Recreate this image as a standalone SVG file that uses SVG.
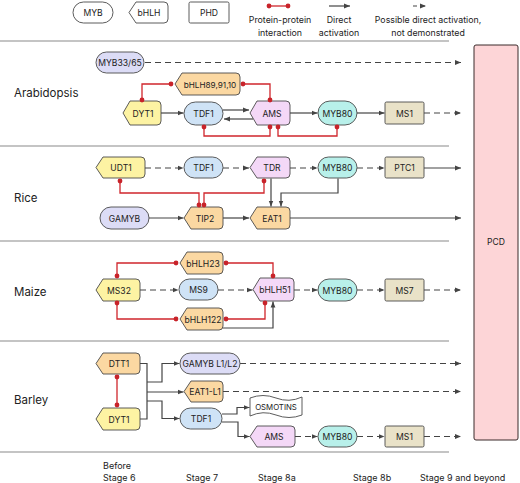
<svg xmlns="http://www.w3.org/2000/svg" width="520" height="483" viewBox="0 0 520 483">
<style>
text{font-family:Inter,"Liberation Sans",sans-serif;fill:#222;}
.n{font-size:8.6px;text-anchor:middle;}
.lg{font-size:8.8px;text-anchor:middle;}
.row{font-size:11.5px;}
.st{font-size:9px;}
.sh{stroke:#4a4a4a;stroke-width:0.9;}
.w{fill:#fff;}
.myb{fill:#dcdcf6;}
.yel{fill:#fdf3a3;}
.org{fill:#fbd8a2;}
.blu{fill:#cfe3f6;}
.pnk{fill:#f4d8f7;}
.tea{fill:#b8f0ea;}
.tan{fill:#e9e2c8;}
.c{fill:none;stroke:#444;stroke-width:1.2;}
.d{stroke-dasharray:6,4;}
.r{fill:none;stroke:#d0262c;stroke-width:1.3;}
.dot{fill:#c8232a;}
.sep{stroke:#8a8a8a;stroke-width:1.2;}
</style>
<defs>
<marker id="a" viewBox="0 0 6 6" refX="6" refY="3" markerWidth="6" markerHeight="6" markerUnits="userSpaceOnUse" orient="auto">
<path d="M0,0.6 L6,3 L0,5.4 Z" fill="#444"/>
</marker>
</defs>

<!-- separators -->
<g id="separators">
<line class="sep" x1="0" y1="41" x2="449" y2="41"/>
<line class="sep" x1="0" y1="146" x2="449" y2="146"/>
<line class="sep" x1="0" y1="241" x2="449" y2="241"/>
<line class="sep" x1="0" y1="341" x2="449" y2="341"/>
<line class="sep" x1="0" y1="452" x2="449" y2="452"/>
</g>

<!-- legend -->
<g id="legend">
<rect class="sh w" x="73" y="2" width="40" height="21" rx="10.5"/>
<text class="n" x="93" y="15.5">MYB</text>
<path class="sh w" d="M136,2 H164 Q168,2 168,6 V19 Q168,23 164,23 H136 L129,12.5 Z"/>
<text class="n" x="149" y="15.5">bHLH</text>
<rect class="sh w" x="189" y="2" width="40" height="21" rx="1.5"/>
<text class="n" x="209" y="15.5">PHD</text>
<path class="r" d="M269,6 H288"/>
<circle class="dot" cx="269" cy="6" r="2.4"/><circle class="dot" cx="288" cy="6" r="2.4"/>
<text class="lg" x="280" y="22.5">Protein-protein</text>
<text class="lg" x="280" y="35.5">interaction</text>
<path class="c" d="M329,6 H350" marker-end="url(#a)"/>
<text class="lg" x="339" y="22.5">Direct</text>
<text class="lg" x="339" y="35.5">activation</text>
<path class="c" d="M413,6 H426" stroke-dasharray="4,4" marker-end="url(#a)"/>
<text class="lg" x="428" y="22.5">Possible direct activation,</text>
<text class="lg" x="428" y="35.5">not demonstrated</text>
</g>

<!-- PCD -->
<g id="PCD">
<rect x="474" y="45" width="44" height="395" rx="2" fill="#fdd5d7" stroke="#3b2b2b" stroke-width="1"/>
<text class="n" x="496" y="245">PCD</text>
</g>

<!-- row labels -->
<g id="row-labels">
<text class="row" x="14" y="97">Arabidopsis</text>
<text class="row" x="14" y="202">Rice</text>
<text class="row" x="14" y="296">Maize</text>
<text class="row" x="14" y="404">Barley</text>
</g>

<!-- stage labels -->
<g id="stage-labels">
<text class="st" x="103" y="469">Before</text>
<text class="st" x="103" y="481">Stage 6</text>
<text class="st" x="186" y="481">Stage 7</text>
<text class="st" x="258" y="481">Stage 8a</text>
<text class="st" x="353" y="481">Stage 8b</text>
<text class="st" x="420" y="481">Stage 9 and beyond</text>
</g>

<!-- connectors -->
<g id="connectors">
<!-- Arabidopsis -->
<path class="c d" d="M145,62.5 H461" marker-end="url(#a)"/>
<path class="c" d="M161,113 H183.5" marker-end="url(#a)"/>
<path class="c" d="M223,110 H249" marker-end="url(#a)"/>
<path class="c" d="M253,119 H224" marker-end="url(#a)"/>
<path class="c" d="M290,113 H317.5" marker-end="url(#a)"/>
<path class="c" d="M357,113 H384.5" marker-end="url(#a)"/>
<path class="c d" d="M424,113 H461" marker-end="url(#a)"/>
<path class="r" d="M171,84 H142 V100"/>
<path class="r" d="M243,84 H270 V100"/>
<path class="r" d="M204,127 V136 H270 V127"/>
<path class="r" d="M278,127 V136 H337 V127"/>
<!-- Rice -->
<path class="c d" d="M145,168 H183.5" marker-end="url(#a)"/>
<path class="c d" d="M223,168 H249" marker-end="url(#a)"/>
<path class="c d" d="M290,168 H317.5" marker-end="url(#a)"/>
<path class="c d" d="M357,168 H384.5" marker-end="url(#a)"/>
<path class="c" d="M424,168 H461" marker-end="url(#a)"/>
<path class="c" d="M149,218 H183.5" marker-end="url(#a)"/>
<path class="c" d="M223,218 H249" marker-end="url(#a)"/>
<path class="c" d="M290,218 H461" marker-end="url(#a)"/>
<path class="c" d="M271,178.5 V206.5" marker-end="url(#a)"/>
<path class="c" d="M338,178.5 V193 H281 V206.5" marker-end="url(#a)"/>
<path class="r" d="M120,181 V193 H199 V205"/>
<path class="r" d="M264,181 V193 H204 V205"/>
<!-- Maize -->
<path class="c d" d="M140,290 H178.5" marker-end="url(#a)"/>
<path class="c d" d="M218,290 H252.5" marker-end="url(#a)"/>
<path class="c d" d="M294,290 H317.5" marker-end="url(#a)"/>
<path class="c d" d="M357,290 H384.5" marker-end="url(#a)"/>
<path class="c d" d="M424,290 H461" marker-end="url(#a)"/>
<path class="r" d="M176,263 H117 V276"/>
<path class="r" d="M226,263 H273 V276"/>
<path class="r" d="M176,319 H117 V303"/>
<path class="r" d="M226,319 H265 V303"/>
<path class="c" d="M223,328 H273 V301.5" marker-end="url(#a)"/>
<!-- Barley -->
<path class="r" d="M117,377 V405"/>
<path class="c" d="M140,363.5 H147 V419 H140"/>
<path class="c" d="M147,382 H162 V363.5 H179.5" marker-end="url(#a)"/>
<path class="c" d="M147,392 H183.5" marker-end="url(#a)"/>
<path class="c" d="M147,401 H162 V418.5 H179.5" marker-end="url(#a)"/>
<path class="c d" d="M240,363.5 H461" marker-end="url(#a)"/>
<path class="c d" d="M223,391.5 H461" marker-end="url(#a)"/>
<path class="c" d="M222,414 H237 V407.5 H249.5" marker-end="url(#a)"/>
<path class="c" d="M222,422 H238 V436.5 H249.5" marker-end="url(#a)"/>
<path class="c d" d="M295,436.5 H317.5" marker-end="url(#a)"/>
<path class="c d" d="M357,436.5 H384.5" marker-end="url(#a)"/>
<path class="c d" d="M424,436.5 H461" marker-end="url(#a)"/>
</g>

<!-- Arabidopsis nodes -->
<g id="ara-MYB33-65"><rect class="sh myb" x="96" y="52" width="48" height="21" rx="10.5"/><text class="n" x="120" y="65.5">MYB33/65</text></g>
<g id="ara-bHLH89"><path class="sh org" d="M182,73 H236 Q240,73 240,77 V91 Q240,95 236,95 H182 L175,84 Z"/><text class="n" x="210" y="87.5" style="font-size:8.2px">bHLH89,91,10</text></g>
<g id="ara-DYT1"><path class="sh yel" d="M130,101 H157 Q161,101 161,105 V121 Q161,125 157,125 H130 L123,113 Z"/><text class="n" x="143" y="116.5">DYT1</text></g>
<g id="ara-TDF1"><rect class="sh blu" x="184" y="102" width="39" height="23" rx="11.5"/><text class="n" x="203.5" y="116.5">TDF1</text></g>
<g id="ara-AMS"><path class="sh pnk" d="M257,101 H286 Q290,101 290,105 V121 Q290,125 286,125 H257 L250,113 Z"/><text class="n" x="272" y="116.5">AMS</text></g>
<g id="ara-MYB80"><rect class="sh tea" x="318" y="101" width="39" height="24" rx="12"/><text class="n" x="337.5" y="116.5">MYB80</text></g>
<g id="ara-MS1"><rect class="sh tan" x="385" y="102" width="39" height="22" rx="1.5"/><text class="n" x="404.5" y="116.5">MS1</text></g>
<g id="ara-dots">
<circle class="dot" cx="171" cy="84" r="2.4"/><circle class="dot" cx="243" cy="84" r="2.4"/>
<circle class="dot" cx="142" cy="100" r="2.4"/><circle class="dot" cx="270" cy="100" r="2.4"/>
<circle class="dot" cx="204" cy="127" r="2.4"/><circle class="dot" cx="270" cy="127" r="2.4"/>
<circle class="dot" cx="278" cy="127" r="2.4"/><circle class="dot" cx="337" cy="127" r="2.4"/>
</g>

<!-- Rice nodes -->
<g id="rice-UDT1"><path class="sh yel" d="M103,157 H141 Q145,157 145,161 V174 Q145,178 141,178 H103 L96,167.5 Z"/><text class="n" x="121" y="171">UDT1</text></g>
<g id="rice-TDF1"><rect class="sh blu" x="184" y="157" width="39" height="21" rx="10.5"/><text class="n" x="203.5" y="171">TDF1</text></g>
<g id="rice-TDR"><path class="sh pnk" d="M257,157 H286 Q290,157 290,161 V174 Q290,178 286,178 H257 L250,167.5 Z"/><text class="n" x="272" y="171">TDR</text></g>
<g id="rice-MYB80"><rect class="sh tea" x="318" y="157" width="39" height="21" rx="10.5"/><text class="n" x="337.5" y="171">MYB80</text></g>
<g id="rice-PTC1"><rect class="sh tan" x="385" y="157" width="39" height="21" rx="1.5"/><text class="n" x="404.5" y="171">PTC1</text></g>
<g id="rice-GAMYB"><rect class="sh myb" x="100" y="207" width="49" height="22" rx="11"/><text class="n" x="124.5" y="221.5">GAMYB</text></g>
<g id="rice-TIP2"><path class="sh org" d="M191,207 H219 Q223,207 223,211 V225 Q223,229 219,229 H191 L184,218 Z"/><text class="n" x="205" y="221.5">TIP2</text></g>
<g id="rice-EAT1"><path class="sh org" d="M257,207 H286 Q290,207 290,211 V225 Q290,229 286,229 H257 L250,218 Z"/><text class="n" x="272" y="221.5">EAT1</text></g>
<g id="rice-dots">
<circle class="dot" cx="120" cy="181" r="2.4"/><circle class="dot" cx="264" cy="181" r="2.4"/>
<circle class="dot" cx="199" cy="205" r="2.4"/><circle class="dot" cx="204" cy="205" r="2.4"/>
</g>

<!-- Maize nodes -->
<g id="maize-bHLH23"><path class="sh org" d="M187,252 H219 Q223,252 223,256 V270 Q223,274 219,274 H187 L180,263 Z"/><text class="n" x="203" y="266.5">bHLH23</text></g>
<g id="maize-MS32"><path class="sh yel" d="M103,279 H136 Q140,279 140,283 V297 Q140,301 136,301 H103 L96,290 Z"/><text class="n" x="119" y="293.5">MS32</text></g>
<g id="maize-MS9"><rect class="sh blu" x="179" y="279" width="39" height="21" rx="10.5"/><text class="n" x="198.5" y="293">MS9</text></g>
<g id="maize-bHLH51"><path class="sh pnk" d="M260,278 H290 Q294,278 294,282 V297 Q294,301 290,301 H260 L253,289.5 Z"/><text class="n" x="275" y="293">bHLH51</text></g>
<g id="maize-MYB80"><rect class="sh tea" x="318" y="279" width="39" height="22" rx="11"/><text class="n" x="337.5" y="293.5">MYB80</text></g>
<g id="maize-MS7"><rect class="sh tan" x="385" y="279" width="39" height="22" rx="1.5"/><text class="n" x="404.5" y="293.5">MS7</text></g>
<g id="maize-bHLH122"><path class="sh org" d="M187,308 H219 Q223,308 223,312 V326 Q223,330 219,330 H187 L180,319 Z"/><text class="n" x="203" y="322.5">bHLH122</text></g>
<g id="maize-dots">
<circle class="dot" cx="176" cy="263" r="2.4"/><circle class="dot" cx="226" cy="263" r="2.4"/>
<circle class="dot" cx="117" cy="276" r="2.4"/><circle class="dot" cx="273" cy="276" r="2.4"/>
<circle class="dot" cx="176" cy="319" r="2.4"/><circle class="dot" cx="226" cy="319" r="2.4"/>
<circle class="dot" cx="117" cy="303" r="2.4"/><circle class="dot" cx="265" cy="303" r="2.4"/>
</g>

<!-- Barley nodes -->
<g id="barley-DTT1"><path class="sh org" d="M103,353 H136 Q140,353 140,357 V370 Q140,374 136,374 H103 L96,363.5 Z"/><text class="n" x="119" y="367">DTT1</text></g>
<g id="barley-DYT1"><path class="sh yel" d="M103,408 H136 Q140,408 140,412 V426 Q140,430 136,430 H103 L96,419 Z"/><text class="n" x="119" y="422.5">DYT1</text></g>
<g id="barley-GAMYB-L1-L2"><rect class="sh myb" x="180" y="353" width="60" height="21" rx="10.5"/><text class="n" x="210" y="367">GAMYB L1/L2</text></g>
<g id="barley-EAT1-L1"><path class="sh org" d="M191,381 H219 Q223,381 223,385 V398 Q223,402 219,402 H191 L184,391.5 Z"/><text class="n" x="205" y="395">EAT1-L1</text></g>
<g id="barley-TDF1"><rect class="sh blu" x="180" y="408" width="42" height="21" rx="10.5"/><text class="n" x="201" y="422">TDF1</text></g>
<g id="barley-OSMOTINS"><path class="sh w" d="M250,398 Q263,393 276,398 T302,397 V415 Q289,420 276,415 T250,416 Z"/><text class="n" x="276" y="410" style="font-size:7.8px">OSMOTINS</text></g>
<g id="barley-AMS"><path class="sh pnk" d="M257,426 H291 Q295,426 295,430 V443 Q295,447 291,447 H257 L250,436.5 Z"/><text class="n" x="274" y="440">AMS</text></g>
<g id="barley-MYB80"><rect class="sh tea" x="318" y="426" width="39" height="21" rx="10.5"/><text class="n" x="337.5" y="440">MYB80</text></g>
<g id="barley-MS1"><rect class="sh tan" x="385" y="426" width="39" height="21" rx="1.5"/><text class="n" x="404.5" y="440">MS1</text></g>
<g id="barley-dots">
<circle class="dot" cx="117" cy="377" r="2.4"/><circle class="dot" cx="117" cy="405" r="2.4"/>
</g>
</svg>
